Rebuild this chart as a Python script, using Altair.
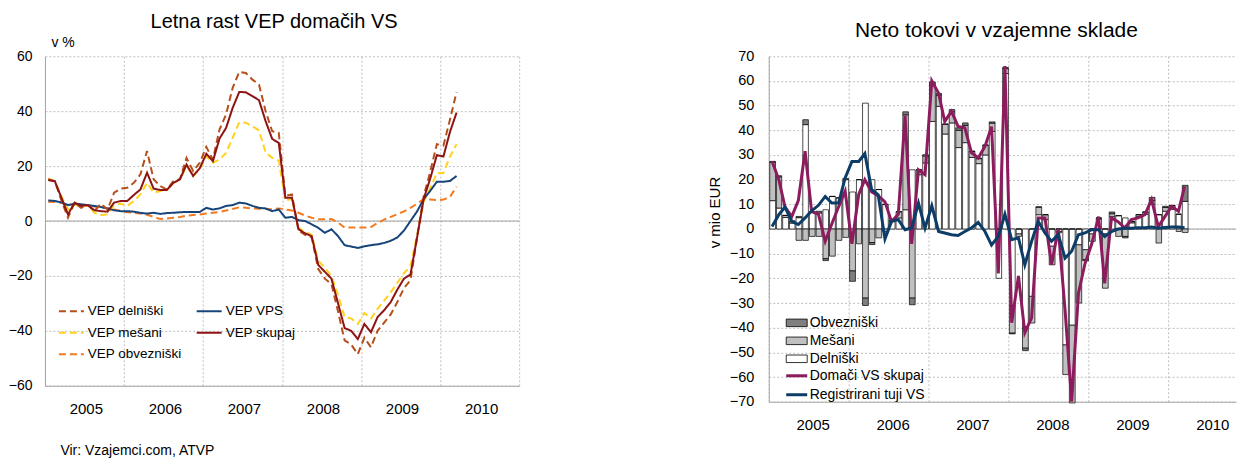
import altair as alt
import pandas as pd

FONT = "Liberation Sans"
GRID = "#BEBEBE"
AX = "#A6A6A6"

N = 63  # monthly, Jan 2005 .. Mar 2010
T = [2005 + (i + 0.5) / 12 for i in range(N)]
MONTH_START = [f"{2005 + i // 12}-{i % 12 + 1:02d}-01T00:00:00" for i in range(N)]
MONTH_MID = [f"{2005 + i // 12}-{i % 12 + 1:02d}-16T00:00:00" for i in range(N)]

# ---------------- left panel: annual growth of NAV (%) ----------------
L_delniski = [15.2, 14.5, 7.5, 1.2, 6.7, 4.8, 5.8, 3.6, 6.3, 4.2, 10.3, 11.8,
              12.1, 13.9, 17.0, 25.5, 15.2, 12.7, 11.5, 14.5, 15.2, 23.0, 18.2, 21.2,
              27.0, 22.4, 33.3, 38.8, 48.5, 54.3, 53.9, 51.5, 49.7, 40.0, 32.7, 32.1,
              9.1, 9.7, -3.5, -5.0, -6.0, -17.5, -21.0, -23.0, -33.0, -43.5, -45.0, -48.5,
              -42.5, -46.0, -40.0, -37.0, -34.0, -29.5, -24.5, -21.5, -6.0, 9.0, 18.0, 28.0,
              27.5, 37.0, 47.0]
L_skupaj = [14.9, 14.5, 8.5, 2.4, 6.7, 5.5, 5.8, 3.9, 3.6, 3.4, 6.7, 7.3,
            7.3, 9.5, 11.5, 17.6, 11.8, 11.3, 11.3, 13.9, 15.2, 20.6, 16.4, 19.2,
            24.5, 21.8, 30.0, 33.9, 41.2, 47.0, 46.9, 45.5, 44.0, 36.4, 29.9, 28.5,
            8.5, 8.5, -3.0, -4.5, -5.5, -16.0, -18.5, -21.0, -30.0, -39.0, -40.0, -43.0,
            -37.5, -40.5, -35.0, -32.5, -29.5, -25.0, -21.0, -19.5, -6.0, 8.0, 15.5, 24.0,
            23.5, 32.5, 39.5]
L_mesani = [15.4, 14.5, 9.0, 4.2, 6.0, 5.2, 5.8, 3.0, 2.2, 2.4, 5.8, 6.3,
            5.5, 7.3, 9.7, 13.9, 10.3, 10.9, 11.2, 13.9, 15.2, 20.0, 16.4, 18.8,
            23.6, 21.2, 22.4, 24.8, 30.3, 36.0, 35.8, 34.5, 33.0, 25.0, 23.0, 22.0,
            7.5, 8.0, -2.5, -4.0, -5.0, -14.5, -17.0, -20.0, -27.0, -35.0, -35.5, -37.5,
            -33.5, -35.5, -32.0, -29.0, -26.0, -22.5, -19.0, -16.5, -5.0, 7.0, 12.0, 17.5,
            17.5, 23.5, 28.0]
L_obvezniski = [7.0, 6.9, 6.6, 5.8, 6.0, 5.7, 5.6, 5.3, 5.0, 4.6, 4.2, 3.7,
                3.2, 3.0, 2.7, 2.3, 1.5, 0.7, 0.9, 1.2, 1.5, 1.9, 2.2, 2.4,
                2.7, 3.0, 3.3, 3.8, 4.4, 5.0, 4.8, 4.6, 4.5, 4.4, 4.3, 4.6,
                4.2, 3.8, 3.0, 2.0, 1.2, 0.6, 0.6, 0.7, -0.5, -2.4, -2.4, -2.3,
                -2.4, -2.2, -0.7, 0.5, 1.5, 2.5, 3.5, 4.8, 6.3, 8.0, 7.8, 7.6,
                7.8, 8.8, 12.5]
L_vps = [7.5, 7.3, 6.8, 5.8, 6.3, 6.1, 5.8, 5.5, 5.1, 4.6, 3.9, 3.6,
         3.6, 3.4, 3.0, 2.7, 3.0, 2.6, 2.9, 3.0, 3.2, 3.3, 3.3, 3.3,
         4.8, 4.2, 4.6, 5.5, 5.8, 6.7, 6.4, 5.5, 4.8, 4.6, 3.6, 4.2,
         1.2, 1.5, 0.3, 0.0, -1.2, -2.5, -4.3, -3.0, -5.5, -8.8, -9.3, -9.8,
         -9.2, -8.8, -8.5, -8.0, -7.2, -6.0, -3.5, 0.0, 3.5, 8.0, 11.0, 14.3,
         14.3, 14.6, 16.4]

left_legend_order = ["VEP delniški", "VEP mešani", "VEP obvezniški", "VEP VPS", "VEP skupaj"]
left_colors = ["#B5501C", "#FFD21F", "#F47A20", "#17457A", "#8E1414"]
left_dashes = [[7, 4], [7, 4], [7, 4], [1, 0], [1, 0]]
draw_order = [("VEP obvezniški", L_obvezniski), ("VEP mešani", L_mesani),
              ("VEP VPS", L_vps), ("VEP delniški", L_delniski), ("VEP skupaj", L_skupaj)]

lrows = []
for name, vals in draw_order:
    for t, v in zip(T, vals):
        lrows.append({"s": name, "t": t, "v": v})
ldf = pd.DataFrame(lrows)

xs_l = alt.Scale(domain=[2005, 2011], nice=False, zero=False)
ys_l = alt.Scale(domain=[-60, 60], nice=False, zero=False)
xax_l = alt.Axis(values=[2005, 2006, 2007, 2008, 2009, 2010, 2011], format="d",
                 labelExpr="datum.value > 2010 ? '' : datum.label",
                 labelOffset=41, labelPadding=16, labelFontSize=15, labelOverlap=False,
                 labelFlush=False, ticks=False, grid=True, gridColor=GRID, gridDash=[2, 2],
                 domainColor=AX,
                 title="Vir: Vzajemci.com, ATVP", titleFontSize=14, titleFontWeight="normal",
                 titleAlign="left", titleAnchor="start", titleX=15, titleY=69,
                 titleBaseline="alphabetic")
yax_l = alt.Axis(values=list(range(-60, 61, 20)), ticks=False, labelPadding=13,
                 labelFontSize=14, grid=True, gridColor=GRID, gridDash=[2, 2],
                 domainColor=AX, title="v %", titleAngle=0, titleAlign="left",
                 titleBaseline="alphabetic", titleX=6, titleY=-10, titleFontSize=14,
                 titleFontWeight="normal")
leg_l = alt.Legend(title=None, orient="none", legendX=13, legendY=242, columns=2,
                   columnPadding=11, rowPadding=1.5, symbolType="stroke", symbolSize=625,
                   symbolStrokeWidth=2, labelFontSize=13.5, labelOffset=3, padding=0,
                   labelLimit=0)

zero_l = alt.Chart(pd.DataFrame({"v": [0]})).mark_rule(color=AX, strokeWidth=1).encode(
    y=alt.Y("v:Q", scale=ys_l, axis=yax_l))
lines_l = alt.Chart(ldf).mark_line(strokeWidth=2).encode(
    x=alt.X("t:Q", scale=xs_l, axis=xax_l),
    y=alt.Y("v:Q", scale=ys_l, axis=yax_l),
    color=alt.Color("s:N", scale=alt.Scale(domain=left_legend_order, range=left_colors), legend=leg_l),
    strokeDash=alt.StrokeDash("s:N", scale=alt.Scale(domain=left_legend_order, range=left_dashes), legend=leg_l),
)
left = alt.layer(zero_l, lines_l).properties(
    width=475, height=330,
    title=alt.TitleParams("Letna rast VEP domačih VS", fontSize=20, fontWeight="normal",
                          anchor="middle", frame="group", offset=-13, dx=-8,
                          baseline="alphabetic"))

# ---------------- right panel: net flows (mio EUR) ----------------
R_delniski = [11.5, 8.5, 4.7, 2.4, 4.6, 42.3, 7.0, 6.5, 7.8, 13.2, 12.6, 20.0,
              15.0, 20.0, 51.0, 20.0, 16.0, 10.0, 3.0, 4.5, 7.8, 24.0, 22.0, 26.8,
              43.6, 49.7, 38.5, 43.0, 33.0, 35.0, 29.0, 26.5, 30.0, 39.6, -20.0, 63.0,
              -31.4, -2.0, -39.5, -27.3, 5.8, 3.8, -7.0, -1.0, -47.0, -39.0, -6.4, -8.4,
              -2.0, 4.0, -2.0, 5.0, 5.4, 4.5, 2.5, 5.0, 6.0, 10.0, 5.8, 7.2,
              8.0, 6.0, 11.2]
R_mesani = [15.5, 12.6, 0.8, 0.7, -4.6, -4.6, -3.0, -3.0, -12.0, -11.0, -4.6, -3.4,
            -17.0, -6.0, -28.0, -5.5, -3.6, -1.0, 0.5, 2.5, 38.5, -28.0, 2.0, 2.8,
            15.0, 4.5, 4.0, 4.5, 7.0, 7.0, 2.5, 2.0, 4.0, 3.3, 0.0, 2.0,
            -10.8, -1.0, -8.8, -10.8, 3.1, 2.0, -7.5, -0.5, -12.0, -31.5, -23.6, -4.0,
            -3.0, 0.5, -22.0, 1.2, -3.0, -3.0, 0.5, 0.8, 0.9, 1.5, -5.7, 1.5,
            1.5, -1.0, -1.4]
R_obvezniski = [0.4, 0.5, 0.0, 0.2, 0.5, 2.0, 0.0, 0.7, -0.8, 0.0, 0.0, 0.5,
                -4.2, 0.0, -3.0, -0.8, 0.0, 0.0, 0.0, 0.0, 1.2, -2.7, 0.0, 0.5,
                1.0, 0.8, 0.0, 0.9, 1.0, 1.0, 0.0, 0.3, 0.0, 0.5, 0.0, 0.5,
                -0.3, 0.0, -1.0, 0.0, 0.0, 0.0, 0.0, 0.0, 0.0, 0.0, 0.0, -0.5,
                0.0, 0.0, 0.0, 0.7, 0.0, -0.6, 0.0, 0.0, 0.0, 1.3, 0.0, 0.5,
                0.0, 0.0, 6.5]
R_skupaj = [27.5, 20.0, 9.0, 5.0, 11.5, 31.5, 7.0, 6.0, -5.0, 2.0, 9.0, 15.3,
            -6.0, 14.0, 20.0, 15.0, 13.5, 11.0, 3.0, 6.0, 46.0, -6.0, 24.0, 22.0,
            60.0, 55.0, 43.6, 47.7, 41.6, 41.0, 31.0, 28.8, 33.5, 41.5, -18.0, 66.0,
            -38.0, -19.0, -42.0, -36.0, 4.5, 4.5, -14.5, 0.0, -33.0, -70.0, -26.0, -14.0,
            -6.0, 5.0, -22.0, 4.5, 3.0, 0.4, 3.8, 4.5, 5.8, 11.9, 1.0, 5.0,
            9.2, 7.2, 17.3]
R_tuji = [1.0, 5.8, 8.9, 3.1, 1.8, 4.5, 7.4, 9.6, 13.2, 10.5, 10.5, 20.7,
          27.4, 27.4, 30.6, 16.0, 13.9, -4.0, 3.1, 3.8, -0.3, 0.4, 10.5, 0.4,
          9.4, -1.0, -1.6, -2.3, -2.6, -1.0, 0.4, 2.7, -1.0, -6.5, -3.0, 6.0,
          -4.3, -3.6, -14.5, -5.0, 3.1, -1.6, -5.0, -2.3, -11.8, -9.0, -2.3, -1.6,
          -0.3, -0.3, -3.0, -1.0, 0.0, 0.3, 0.3, 0.5, 0.5, 0.8, 0.3, 0.6,
          0.8, 0.8, 0.5]

bar_names = ["Obvezniški", "Mešani", "Delniški"]
bar_colors = ["#7F7F7F", "#C0C0C0", "#FFFFFF"]
line_names = ["Domači VS skupaj", "Registrirani tuji VS"]
line_colors = ["#8C1C5E", "#0B3D68"]

brows = []
for i in range(N):
    for k, (name, vals) in enumerate([("Delniški", R_delniski), ("Mešani", R_mesani),
                                       ("Obvezniški", R_obvezniski)]):
        brows.append({"d": MONTH_START[i], "val": vals[i], "cat": name, "ord": k})
bdf = pd.DataFrame(brows)

rrows = []
for name, vals in [("Domači VS skupaj", R_skupaj), ("Registrirani tuji VS", R_tuji)]:
    for d, v in zip(MONTH_MID, vals):
        rrows.append({"dm": d, "val": v, "s": name})
rdf = pd.DataFrame(rrows)

xs_r = alt.Scale(domain=[alt.DateTime(year=2005, month=1, date=1),
                         alt.DateTime(year=2010, month=11, date=6)], nice=False)
ys_r = alt.Scale(domain=[-70, 70], nice=False, zero=False)
xax_r = alt.Axis(values=[alt.DateTime(year=y, month=1, date=1) for y in range(2005, 2011)],
                 format="%Y", labelOffset=44, labelPadding=16, labelFontSize=15,
                 labelOverlap=False, labelFlush=False, ticks=False, grid=True,
                 gridColor=GRID, gridDash=[2, 2], domainColor=AX, title=None)
yax_r = alt.Axis(values=list(range(-70, 71, 10)), ticks=False, labelPadding=15,
                 labelFontSize=14.5, grid=True, gridColor=GRID, gridDash=[2, 2],
                 domainColor=AX, title="v mio EUR", titleFontSize=15,
                 titleFontWeight="normal", titleAngle=270, titleX=-46, titleY=156,
                 titleAlign="center", titleBaseline="bottom")
leg_b = alt.Legend(title=None, orient="none", legendX=17, legendY=256,
                   symbolType="M-1,-0.36H1V0.36H-1Z", symbolSize=441,
                   symbolStrokeColor="black", symbolStrokeWidth=0.8,
                   labelFontSize=14, labelOffset=2, rowPadding=0, padding=0, labelLimit=0)
leg_s = alt.Legend(title=None, orient="none", legendX=16, legendY=308,
                   symbolType="stroke", symbolSize=441, symbolStrokeWidth=3,
                   labelFontSize=14, labelOffset=1, rowPadding=-3.7, padding=0, labelLimit=0)

zero_r = alt.Chart(pd.DataFrame({"val": [0]})).mark_rule(color=AX, strokeWidth=1).encode(
    y=alt.Y("val:Q", scale=ys_r, axis=yax_r))
bars = alt.Chart(bdf).mark_bar(stroke="black", strokeWidth=0.7).encode(
    x=alt.X("d:T", timeUnit="yearmonth", scale=xs_r, axis=xax_r),
    y=alt.Y("val:Q", stack="zero", scale=ys_r, axis=yax_r),
    fill=alt.Fill("cat:N", scale=alt.Scale(domain=bar_names, range=bar_colors), legend=leg_b),
    order=alt.Order("ord:Q", sort="ascending"),
)
lines_r = alt.Chart(rdf).mark_line(strokeWidth=3).encode(
    x=alt.X("dm:T", scale=xs_r, axis=xax_r),
    y=alt.Y("val:Q", scale=ys_r, axis=yax_r),
    stroke=alt.Stroke("s:N", scale=alt.Scale(domain=line_names, range=line_colors), legend=leg_s),
)
right = alt.layer(zero_r, bars, lines_r).properties(
    width=468, height=346,
    title=alt.TitleParams("Neto tokovi v vzajemne sklade", fontSize=21, fontWeight="normal",
                          anchor="middle", frame="group", offset=-10, dx=-6,
                          baseline="alphabetic"))

chart = alt.hconcat(left, right, spacing=250, bounds="flush").resolve_scale(
    x="independent", y="independent", color="independent", strokeDash="independent",
    fill="independent", stroke="independent"
).properties(
    padding={"left": 0, "top": 4, "right": 0, "bottom": 0}
).configure(font=FONT).configure_view(stroke=None).configure_axis(
    labelColor="#000000", titleColor="#000000"
).configure_legend(labelColor="#000000").configure_title(color="#000000")

chart.save("out.html", embed_options={"renderer": "svg", "actions": False})
